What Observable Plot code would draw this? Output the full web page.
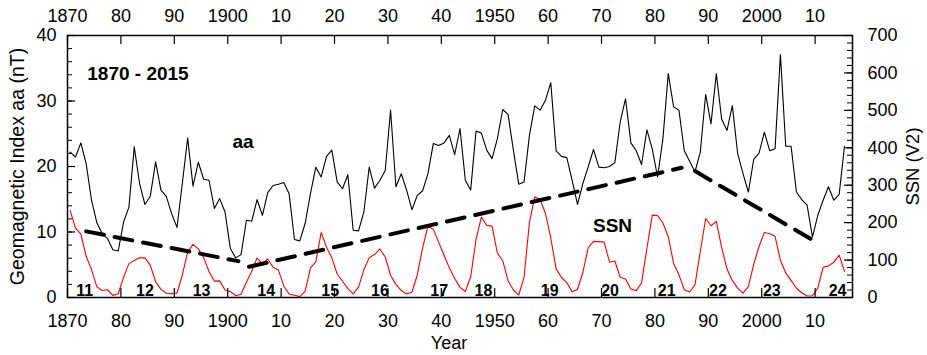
<!DOCTYPE html>
<html><head><meta charset="utf-8">
<script src="https://cdn.jsdelivr.net/npm/d3@7"></script>
<script src="https://cdn.jsdelivr.net/npm/@observablehq/plot@0.6"></script>
<style>
body{margin:0;background:#fff;}
#chart svg{display:block;}
</style></head><body><div id="chart"></div>
<script>
// Years (annual means plotted at mid-year)
const years = d3.range(1870, 2016);

// Geomagnetic index aa (nT), annual means
const aa = [
22.2,21.45,23.6,20.4,14.85,11.4,9.75,9.0,7.3,7.1,
11.5,13.8,23.0,17.4,14.2,15.45,20.7,16.4,15.45,12.8,
10.7,17.4,24.35,17.0,20.65,18.05,17.9,13.6,15.1,13.06,
7.47,6.05,6.55,11.8,11.65,14.95,12.55,16.0,17.1,17.3,
17.55,15.85,8.85,8.65,11.3,15.85,19.9,18.4,21.55,22.5,
17.65,16.6,18.75,10.27,10.17,13.06,19.9,16.7,17.9,19.4,
28.6,16.9,18.9,16.4,13.4,15.6,16.3,18.9,23.5,23.2,
23.6,24.75,21.8,25.8,17.9,16.4,25.4,25.1,22.5,21.2,
24.25,28.7,27.95,22.5,17.3,17.65,24.75,29.25,28.6,30.1,
32.8,22.4,21.55,21.35,17.9,14.2,17.4,19.9,22.6,19.9,
19.8,20.0,20.6,26.8,30.35,23.6,22.4,20.3,25.6,22.7,
18.4,24.25,34.2,29.1,28.6,22.4,20.8,19.2,22.2,31.0,
26.5,34.2,27.2,25.5,29.3,21.95,18.9,16.1,21.1,22.05,
25.25,22.4,22.7,37.1,23.1,23.1,16.1,14.95,14.1,9.25,
12.55,14.85,16.9,14.85,15.75,23.1
];

// Sunspot number (V2), annual means
const ssn = [
232.0,185.3,169.2,110.1,74.5,28.3,18.9,20.7,5.7,10.0,
53.7,90.5,99.0,106.1,105.8,86.3,42.4,21.8,11.2,10.4,
11.8,59.5,121.7,142.0,130.0,106.6,69.4,43.8,44.4,20.2,
15.7,4.6,8.5,40.8,70.1,105.5,90.1,102.8,80.9,73.2,
30.9,9.5,6.0,2.4,16.1,79.0,95.0,173.6,134.6,105.7,
62.7,43.5,23.7,9.7,27.9,74.0,106.5,114.7,129.7,108.2,
59.4,35.1,18.6,9.2,14.6,60.2,132.8,190.6,182.6,148.0,
113.0,79.2,50.8,27.1,16.1,55.3,154.3,214.7,193.0,190.7,
118.9,98.3,45.0,20.1,6.6,54.2,200.7,269.3,261.7,225.1,
159.0,76.4,53.4,39.9,15.0,22.0,66.8,132.9,150.0,149.4,
148.0,94.4,97.6,54.1,49.2,22.5,18.4,39.3,131.0,220.1,
218.9,198.9,162.4,91.0,60.5,20.6,14.8,33.9,123.0,211.1,
191.8,203.3,133.0,76.1,44.9,25.1,11.6,28.9,88.3,136.3,
173.9,170.4,163.6,99.3,65.3,45.8,24.7,12.6,4.2,4.8,
24.9,80.8,84.5,94.0,113.3,69.8
];

// Dashed trend of aa minima (three segments)
const trendSeg  = ["A","A","B","B","C","C"];
const trendYear = [1873.5,1902.0,1904.0,1985.0,1987.5,2010.0];
const trendAa   = [10.1,5.55,4.7,19.8,19.3,8.55];

// Solar cycle numbers and their label positions (year)
const cycleNumbers = ["11","12","13","14","15","16","17","18","19","20","21","22","23","24"];
const cycleYears   = [1873.2,1884.5,1895.1,1907.2,1919.2,1928.5,1939.6,1947.9,1960.3,1971.6,1982.2,1991.8,2001.9,2014.2];

// Annotations
const noteText  = ["1870 - 2015","aa","SSN"];
const noteYear  = [1873.7,1900.9,1968.4];
const noteValue = [34.1,23.8,10.9];

// Axis ticks
const decadeTicks  = [1870,1880,1890,1900,1910,1920,1930,1940,1950,1960,1970,1980,1990,2000,2010];
const decadeLabels = ["1870","80","90","1900","10","20","30","40","1950","60","70","80","90","2000","10"];
const aaTicks = [0,10,20,30,40];
const aaMinorTicks = [0,2,4,6,8,10,12,14,16,18,20,22,24,26,28,30,32,34,36,38,40];
const ssnTicks = [0,100,200,300,400,500,600,700];
const ssnMinorTicks = d3.range(0, 701, 20);

const AA_MAX = 40, SSN_MAX = 700;
const toAa = v => v * AA_MAX / SSN_MAX;

const series = years.map((y, i) => ({year: y, aa: aa[i], ssn: ssn[i]}));
const trend = trendSeg.map((s, i) => ({seg: s, year: trendYear[i], aa: trendAa[i]}));
const cycles = cycleNumbers.map((n, i) => ({n, year: cycleYears[i]}));
const notes = noteText.map((t, i) => ({t, year: noteYear[i], value: noteValue[i]}));

const W = 927, H = 355, mT = 35, mR = 75, mB = 58, mL = 67;
const pw = W - mL - mR, ph = H - mT - mB;
const font = "'Liberation Sans', Arial, Helvetica, sans-serif";

const chart = Plot.plot({
  width: W, height: H,
  marginTop: mT, marginRight: mR, marginBottom: mB, marginLeft: mL,
  style: {fontFamily: font, color: "black", background: "white"},
  x: {domain: [1870, 2017]},
  y: {domain: [0, AA_MAX]},
  marks: [
    // data
    Plot.line(series, {x: d => d.year + 0.5, y: d => toAa(d.ssn), stroke: "#ff0000", strokeWidth: 1.1}),
    Plot.line(series, {x: d => d.year + 0.5, y: "aa", stroke: "black", strokeWidth: 1.1}),
    Plot.line(trend, {x: "year", y: "aa", z: "seg", stroke: "black", strokeWidth: 4, strokeDasharray: "18,11"}),
    // inward ticks
    Plot.tickX(decadeTicks, {x: d => d, insetTop: ph - 9, stroke: "black", strokeWidth: 1.2}),
    Plot.tickX(decadeTicks, {x: d => d, insetBottom: ph - 9, stroke: "black", strokeWidth: 1.2}),
    Plot.tickY(aaMinorTicks, {y: d => d, insetRight: pw - 5, stroke: "black", strokeWidth: 1}),
    Plot.tickY(aaTicks, {y: d => d, insetRight: pw - 8, stroke: "black", strokeWidth: 1.2}),
    Plot.tickY(ssnMinorTicks, {y: d => toAa(d), insetLeft: pw - 5, stroke: "black", strokeWidth: 1}),
    Plot.tickY(ssnTicks, {y: d => toAa(d), insetLeft: pw - 8, stroke: "black", strokeWidth: 1.2}),
    Plot.frame({stroke: "black", strokeWidth: 1.5}),
    // axes labels
    Plot.axisX(decadeTicks, {anchor: "bottom", tickSize: 0, tickPadding: 17, fontSize: 18,
      tickFormat: d => decadeLabels[decadeTicks.indexOf(d)], label: null}),
    Plot.axisX(decadeTicks, {anchor: "top", tickSize: 0, tickPadding: 14, fontSize: 18,
      tickFormat: d => decadeLabels[decadeTicks.indexOf(d)], label: null}),
    Plot.axisY(aaTicks, {anchor: "left", tickSize: 0, tickPadding: 11, fontSize: 18, label: null}),
    Plot.axisY(ssnTicks.map(toAa), {anchor: "right", tickSize: 0, tickPadding: 15, fontSize: 18,
      tickFormat: d => String(Math.round(d * SSN_MAX / AA_MAX)), label: null}),
    Plot.text(["Year"], {frameAnchor: "bottom", textAnchor: "middle", lineAnchor: "middle", dx: -11, dy: 46, fontSize: 18}),
    Plot.text(["Geomagnetic Index aa (nT)"], {frameAnchor: "left", textAnchor: "middle", lineAnchor: "middle", rotate: -90, dx: -50, fontSize: 19.5}),
    Plot.text(["SSN (V2)"], {frameAnchor: "right", textAnchor: "middle", lineAnchor: "middle", rotate: -90, dx: 61, fontSize: 18.5}),
    // annotations
    Plot.text(notes, {x: "year", y: "value", text: "t", textAnchor: "start", fontWeight: "bold", fontSize: 19}),
    Plot.text(cycles, {x: "year", text: "n", frameAnchor: "bottom", lineAnchor: "bottom", dy: -2, fontWeight: "bold", fontSize: 16})
  ]
});
document.getElementById("chart").appendChild(chart);
</script>
</body></html>
